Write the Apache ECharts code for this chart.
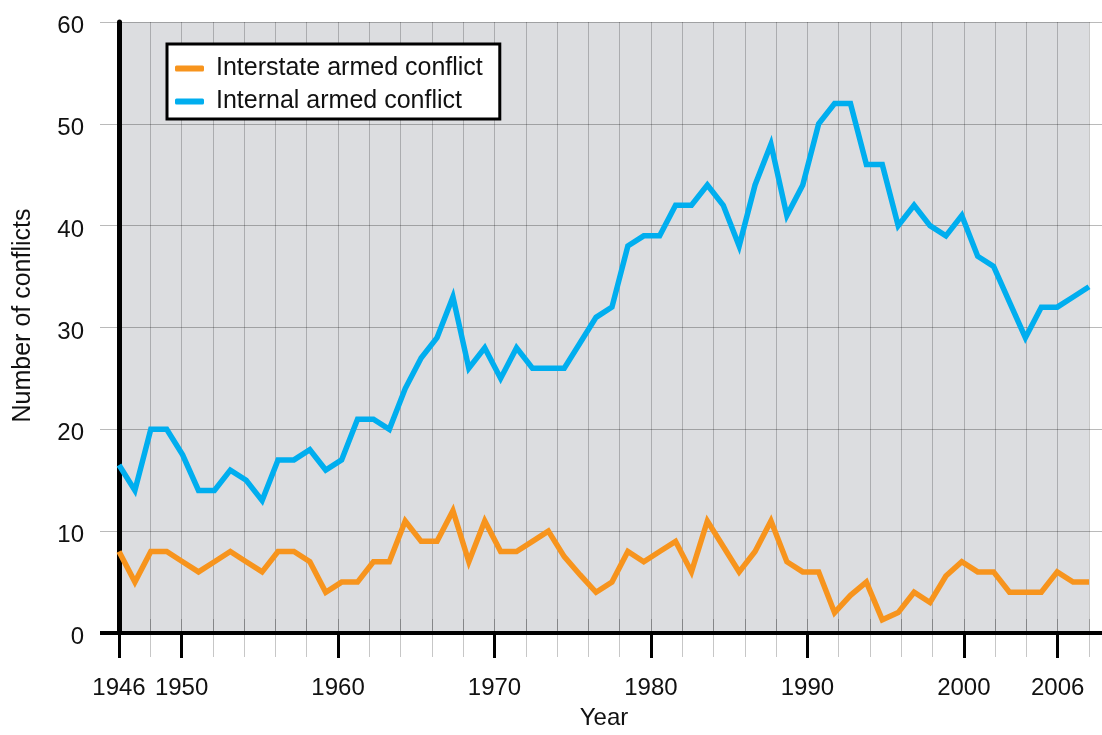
<!DOCTYPE html>
<html>
<head>
<meta charset="utf-8">
<title>Number of conflicts</title>
<script src="https://cdn.jsdelivr.net/npm/echarts@6/dist/echarts.min.js"></script>
<style>
html, body { margin: 0; padding: 0; background: #fff; }
#chart { width: 1102px; height: 735px; }
</style>
</head>
<body>
<div id="chart"></div>
<script>
// data years
var years = [1946, 1947, 1948, 1949, 1950, 1951, 1952, 1953, 1954, 1955,
    1956, 1957, 1958, 1959, 1960, 1961, 1962, 1963, 1964, 1965,
    1966, 1967, 1968, 1969, 1970, 1971, 1972, 1973, 1974, 1975,
    1976, 1977, 1978, 1979, 1980, 1981, 1982, 1983, 1984, 1985,
    1986, 1987, 1988, 1989, 1990, 1991, 1992, 1993, 1994, 1995,
    1996, 1997, 1998, 1999, 2000, 2001, 2002, 2003, 2004, 2005,
    2006, 2007];
// interstate armed conflict
var interstate = [8, 5, 8, 8, 7, 6, 7, 8, 7, 6,
    8, 8, 7, 4, 5, 5, 7, 7, 11, 9,
    9, 12, 7, 11, 8, 8, 9, 10, 7.5, 5.7,
    4, 5, 8, 7, 8, 9, 6, 11, 8.5, 6,
    8, 11, 7, 6, 6, 2, 3.7, 5, 1.3, 2,
    4, 3, 5.6, 7, 6, 6, 4, 4, 4, 6,
    5, 5];
// internal armed conflict
var internal = [16.5, 14, 20, 20, 17.5, 14, 14, 16, 15, 13,
    17, 17, 18, 16, 17, 21, 21, 20, 24, 27,
    29, 33, 26, 28, 25, 28, 26, 26, 26, 28.5,
    31, 32, 38, 39, 39, 42, 42, 44, 42, 38,
    44, 48, 41, 44, 50, 52, 52, 46, 46, 40,
    42, 40, 39, 41, 37, 36, 32.5, 29, 32, 32,
    33, 34];
// labelled years on the x axis
var majorYears = [1946, 1950, 1960, 1970, 1980, 1990, 2000, 2006];

var interstatePts = years.map(function (y, i) { return [y, interstate[i]]; });
var internalPts = years.map(function (y, i) { return [y, internal[i]]; });

var vLine = 'rgba(0,0,0,0.22)';
var hLine = 'rgba(0,0,0,0.27)';
var txt = '#111';

var myChart = echarts.init(document.getElementById('chart'));
var option = {
    animation: false,
    textStyle: { fontFamily: 'Liberation Sans, Arial, sans-serif' },
    grid: {
        left: 119, right: 13, top: 22, bottom: 97,
        show: true, backgroundColor: '#dcdde0', borderWidth: 0
    },
    legend: {
        left: 167, top: 44,
        orient: 'vertical',
        icon: 'roundRect',
        itemWidth: 29, itemHeight: 6, itemGap: 8,
        padding: [12, 17, 5, 8],
        backgroundColor: '#fff', borderColor: '#000', borderWidth: 3, borderRadius: 0,
        textStyle: { fontSize: 25, color: txt, lineHeight: 24, padding: [0, 0, 0, 7] },
        data: ['Interstate armed conflict', 'Internal armed conflict']
    },
    xAxis: [
        {   // axis line, minor ticks and vertical grid
            type: 'value', min: 1946, max: 2008, interval: 2, position: 'bottom',
            axisLine: { show: true, onZero: false, lineStyle: { color: '#000', width: 4 } },
            axisTick: { show: true, length: 24, lineStyle: { color: vLine, width: 1 } },
            axisLabel: { show: false },
            splitLine: { show: true, lineStyle: { color: vLine, width: 1 } },
            name: 'Year', nameLocation: 'middle', nameGap: 73,
            nameTextStyle: { fontSize: 24, color: txt }
        },
        {   // major ticks and labels
            type: 'value', min: 1946, max: 2008, position: 'bottom', offset: 0,
            axisLine: { show: false },
            axisTick: { show: true, customValues: majorYears, length: 25, lineStyle: { color: '#000', width: 3 } },
            axisLabel: {
                show: true, customValues: majorYears, margin: 43, fontSize: 24, color: txt,
                formatter: function (v) { return String(v); }
            },
            splitLine: { show: false }
        },
        {   // grid stubs above the plot
            type: 'value', min: 1946, max: 2008, interval: 2, position: 'top', offset: 0,
            axisLine: { show: false },
            axisTick: { show: true, length: 14, lineStyle: { color: vLine, width: 1 } },
            axisLabel: { show: false },
            splitLine: { show: false }
        },
        {   // y axis bar sticking out at the top
            type: 'value', min: 1946, max: 2008, position: 'top', offset: 0,
            axisLine: { show: false },
            axisTick: { show: true, customValues: [1946], length: 13, lineStyle: { color: '#000', width: 5 } },
            axisLabel: { show: false },
            splitLine: { show: false }
        },
        {   // data axis
            type: 'value', min: 1946, max: 2007, show: false
        }
    ],
    yAxis: [
        {
            type: 'value', min: 0, max: 60, interval: 10, position: 'left', z: 3,
            axisLine: { show: true, lineStyle: { color: '#000', width: 5 } },
            axisTick: { show: true, length: 19, lineStyle: { color: hLine, width: 1 } },
            axisLabel: {
                margin: 35, color: txt,
                formatter: '{n|{value}}',
                rich: { n: { fontSize: 24, color: txt, padding: [9, 0, 0, 0] } }
            },
            splitLine: { show: false },
            name: 'Number of conflicts', nameLocation: 'middle', nameGap: 83, nameRotate: 90,
            nameTextStyle: { fontSize: 25, color: txt, padding: [0, 0, 0, 24] }
        },
        {   // horizontal grid and right stubs
            type: 'value', min: 0, max: 60, interval: 10, position: 'right', offset: 0,
            axisLine: { show: false },
            axisTick: { show: true, length: 13, lineStyle: { color: hLine, width: 1 } },
            axisLabel: { show: false },
            splitLine: { show: true, lineStyle: { color: hLine, width: 1 } }
        },
        {   // x axis bar sticking out left
            type: 'value', min: 0, max: 60, position: 'left', offset: 0,
            axisLine: { show: false },
            axisTick: { show: true, customValues: [0], length: 19, lineStyle: { color: '#000', width: 4 } },
            axisLabel: { show: false },
            splitLine: { show: false }
        },
        {   // x axis bar sticking out right
            type: 'value', min: 0, max: 60, position: 'right', offset: 0,
            axisLine: { show: false },
            axisTick: { show: true, customValues: [0], length: 13, lineStyle: { color: '#000', width: 4 } },
            axisLabel: { show: false },
            splitLine: { show: false }
        }
    ],
    series: [
        {
            name: 'Interstate armed conflict', type: 'line',
            xAxisIndex: 4, yAxisIndex: 0,
            data: interstatePts, symbol: 'none',
            itemStyle: { color: '#f7941d' },
            lineStyle: { color: '#f7941d', width: 5.5, join: 'miter' }
        },
        {
            name: 'Internal armed conflict', type: 'line',
            xAxisIndex: 4, yAxisIndex: 0,
            data: internalPts, symbol: 'none',
            itemStyle: { color: '#00aeef' },
            lineStyle: { color: '#00aeef', width: 5.5, join: 'miter' }
        }
    ]
};
myChart.setOption(option);
</script>
</body>
</html>
